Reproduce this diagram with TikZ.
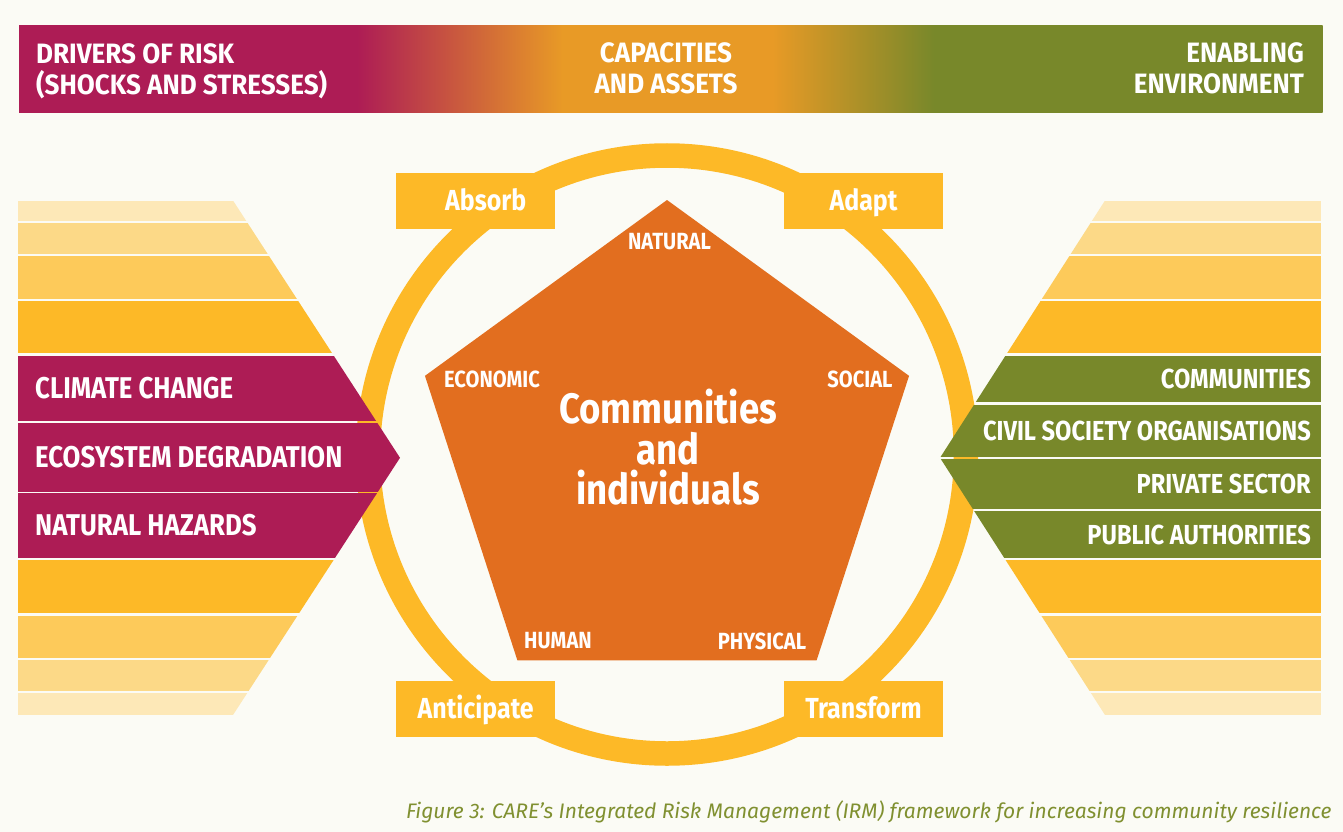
\documentclass[tikz,border=0pt]{standalone}
\usepackage{fontspec}
\setmainfont{Fira Sans}[FakeStretch=0.86]
\newfontfamily\headfont{Fira Sans}[FakeStretch=0.93]
\newfontfamily\captionfont{Fira Sans}
\usepackage{tikz}
\usetikzlibrary{shapes.geometric}
\definecolor{paper}{RGB}{251,251,245}
\definecolor{caremagenta}{RGB}{173,28,85}
\definecolor{careorange}{RGB}{232,154,38}
\definecolor{careolive}{RGB}{120,136,42}
\definecolor{ringyellow}{RGB}{253,185,39}
\definecolor{pentorange}{RGB}{226,110,31}
\definecolor{bandA}{RGB}{253,232,183}
\definecolor{bandB}{RGB}{252,217,135}
\definecolor{bandC}{RGB}{253,202,90}
\definecolor{bandD}{RGB}{253,185,39}
\definecolor{captiongreen}{RGB}{128,144,48}
\pgfdeclarehorizontalshading{riskbar}{100bp}{color(0bp)=(caremagenta); color(37.95bp)=(caremagenta); color(45.85bp)=(careorange); color(53.9bp)=(careorange); color(60.1bp)=(careolive); color(100bp)=(careolive)}

\begin{document}
\begin{tikzpicture}[x=1pt,y=-1pt,
		headtext/.style={text=white,inner sep=0pt,font=\headfont\bfseries\fontsize{28}{31}\selectfont},
		drivertext/.style={text=white,inner sep=0pt,anchor=west,font=\bfseries\fontsize{30}{30}\selectfont},
		actortext/.style={text=white,inner sep=0pt,anchor=east,font=\bfseries\fontsize{27.5}{27.5}\selectfont},
		capbox/.style={fill=ringyellow,minimum width=158.7pt,minimum height=56.6pt,inner sep=0pt,text=white,text height=19.5pt,text depth=0pt,font=\bfseries\fontsize{29}{29}\selectfont},
		assettext/.style={text=white,inner sep=0pt,font=\bfseries\fontsize{23.4}{23.4}\selectfont}]
		\fill[paper,use as bounding box] (0,0) rectangle (1343,832);
		\clip (0,0) rectangle (1343,832);
		\shade[shading=riskbar] (19,26) rectangle (1322.5,112.7);
		\node[headtext,align=left,anchor=west] (drivers) at (36,71) {DRIVERS OF RISK\\(SHOCKS AND STRESSES)};
		\node[headtext,align=center] (capacities) at (666,68.75) {CAPACITIES\\AND ASSETS};
		\node[headtext,align=right,anchor=east] (enabling) at (1304,68.75) {ENABLING\\ENVIRONMENT};
		
		\draw[ringyellow,line width=24.5pt] (667,454.5) circle [radius=299pt];
		\node[capbox] (absorb) at (475.7,201) {\hspace*{20pt}Absorb};
		\node[capbox] (adapt) at (863.5,201) {Adapt};
		\node[capbox] (anticipate) at (475.7,709) {Anticipate};
		\node[capbox] (transform) at (863.5,709) {Transform};
		
		\node[regular polygon,regular polygon sides=5,minimum size=509pt,inner sep=0pt,fill=pentorange] (core) at (667,454.5) {};
		\node[text=white,align=center,inner sep=0pt,font=\bfseries\fontsize{42.5}{40.5}\selectfont] (hub) at (668,447.5) {Communities\\and\\individuals};
		\node[assettext] (natural) at (669.5,242) {NATURAL};
		\node[assettext] (economic) at (492,379) {ECONOMIC};
		\node[assettext] (social) at (860,379) {SOCIAL};
		\node[assettext] (human) at (558,641) {HUMAN};
		\node[assettext] (physical) at (762,641) {PHYSICAL};
		
		\foreach \ya/\yb/\col in {200.5/220.5/bandA,222.5/253.5/bandB,255.5/298.5/bandC,300.5/353/bandD,355.5/421/caremagenta,423/491.5/caremagenta,493/558/caremagenta,560/613/bandD,615.5/657.5/bandC,659.5/691/bandB,693/715/bandA}
		{
		\begin{scope}
		\clip (18,200.5) -- (233,200.5) -- (400,457.8) -- (233,715) -- (18,715) -- cycle;
		\fill[\col] (18,\ya) rectangle (410,\yb);
		\end{scope}
		}
		\foreach \ya/\yb/\col in {200.5/220.5/bandA,222.5/253.5/bandB,255.5/298.5/bandC,300.5/353/bandD,355.5/402/careolive,404.5/456.5/careolive,458.5/508.5/careolive,511/558/careolive,560/613/bandD,615.5/657.5/bandC,659.5/691/bandB,693/715/bandA}
		{
		\begin{scope}
		\clip (1321,200.5) -- (1105,200.5) -- (940,457.8) -- (1105,715) -- (1321,715) -- cycle;
		\fill[\col] (930,\ya) rectangle (1321,\yb);
		\end{scope}
		}
		\node[drivertext] (climate) at (35,388.25) {CLIMATE CHANGE};
		\node[drivertext] (ecosystem) at (35,457.25) {ECOSYSTEM DEGRADATION};
		\node[drivertext] (hazards) at (35,525.5) {NATURAL HAZARDS};
		\node[actortext] (communities) at (1311,378.75) {COMMUNITIES};
		\node[actortext] (civil) at (1311,430.5) {CIVIL SOCIETY ORGANISATIONS};
		\node[actortext] (private) at (1311,483.5) {PRIVATE SECTOR};
		\node[actortext] (public) at (1311,534.5) {PUBLIC AUTHORITIES};
		
		\node[anchor=base west,inner sep=0pt,text=captiongreen,font=\captionfont\itshape\fontsize{21}{21}\selectfont] (caption) at (405.8,818.3) {Figure 3: CARE’s Integrated Risk Management (IRM) framework for increasing community resilience};
\end{tikzpicture}
\end{document}
